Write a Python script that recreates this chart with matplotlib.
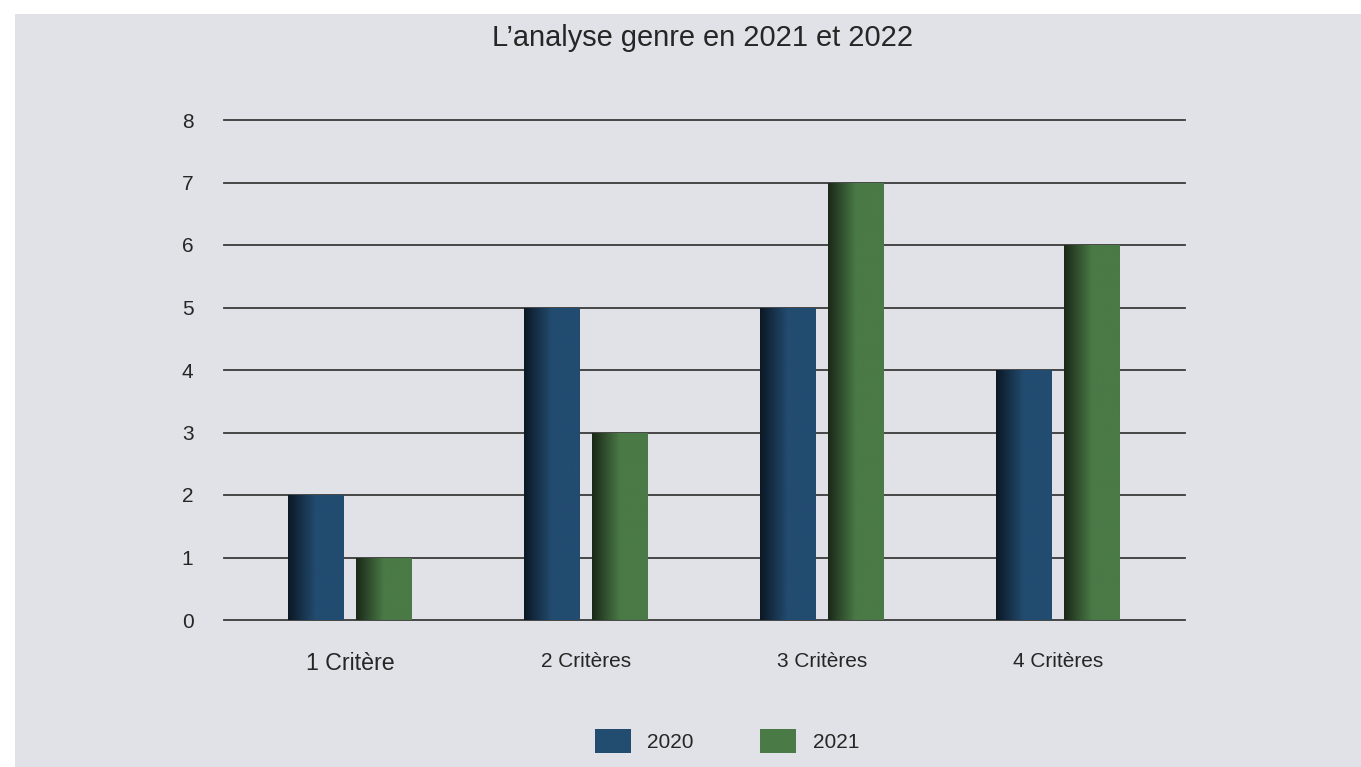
import numpy as np
import matplotlib
matplotlib.use("Agg")
import matplotlib.pyplot as plt
from matplotlib.colors import LinearSegmentedColormap
from matplotlib.patches import Rectangle, Patch

plt.rcParams['font.family'] = ['Liberation Sans', 'DejaVu Sans']

# Data
categories = ["1 Critère", "2 Critères", "3 Critères", "4 Critères"]
series_names = ["2020", "2021"]
values_2020 = [2, 5, 5, 4]
values_2021 = [1, 3, 7, 6]

bg = "#E1E2E7"
text_col = "#262626"
blue = "#224C70"
green = "#4A7A46"

W, H = 1361, 767
fig = plt.figure(figsize=(W / 100, H / 100), dpi=100)
fig.patch.set_facecolor("white")
# grey panel (thin white margin on top and left)
fig.add_artist(Rectangle((15 / W, 0), 1 - 15 / W, (H - 14) / H,
                         transform=fig.transFigure, facecolor=bg,
                         edgecolor="none", zorder=-10))

ax = fig.add_axes([224 / W, (H - 620) / H, (1185 - 224) / W, 500 / H])
ax.set_facecolor("none")

for s in ax.spines.values():
    s.set_visible(False)

ax.set_yticks(range(0, 9))
ax.tick_params(axis="y", length=0, pad=22, labelsize=15, labelcolor=text_col)
ax.tick_params(axis="x", length=0, pad=23, labelsize=15, labelcolor=text_col)
ax.yaxis.grid(True, color="#3a3a3a", linewidth=1.3, zorder=0)
ax.set_axisbelow(True)

x = np.arange(len(categories))
ax.set_xticks(x)
ax.set_xticklabels(categories)
ax.get_xticklabels()[0].set_fontsize(16.7)

width = 0.237
offset = 0.144


def shaded_cmap(base, dark):
    return LinearSegmentedColormap.from_list(
        "shade", [(0, dark), (0.5, base), (1, base)])


grad = np.linspace(0, 1, 200).reshape(1, -1)
for vals, xo, base, dark in [(values_2020, -offset, blue, "#0C1825"),
                             (values_2021, offset, green, "#1A2818")]:
    bars = ax.bar(x + xo, vals, width, color=base, zorder=2)
    cmap = shaded_cmap(base, dark)
    for b in bars:
        x0, y0 = b.get_x(), b.get_y()
        im = ax.imshow(grad, cmap=cmap, aspect="auto",
                       extent=(x0, x0 + b.get_width(), y0, y0 + b.get_height()),
                       zorder=3, interpolation="bicubic")
        im.set_clip_path(b)
ax.set_xlim(-0.534, 3.538)
ax.set_ylim(0, 8)
for gl in ax.get_ygridlines():
    gl.set_clip_on(False)

fig.text(703 / W, 1 - 38 / H, "L’analyse genre en 2021 et 2022",
         ha="center", va="center", fontsize=20.9, color=text_col)

handles = [Patch(facecolor=blue), Patch(facecolor=green)]
fig.legend(handles, series_names, loc="center", bbox_to_anchor=(727 / W, 1 - 741 / H),
           ncol=2, frameon=False, fontsize=15, handlelength=1.73, handleheight=1.4,
           handletextpad=0.8, columnspacing=3.2, labelcolor=text_col)

fig.savefig("out.png", dpi=100)
